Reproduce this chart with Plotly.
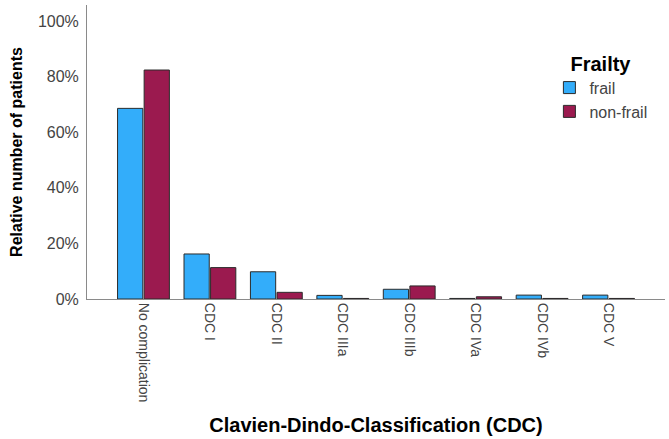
import plotly.graph_objects as go

categories = ["No complication", "CDC I", "CDC II", "CDC IIIa", "CDC IIIb", "CDC IVa", "CDC IVb", "CDC V"]
frail = [0.686, 0.162, 0.098, 0.013, 0.035, 0.002, 0.014, 0.014]
non_frail = [0.824, 0.113, 0.024, 0.002, 0.047, 0.008, 0.002, 0.002]
y_ticks = [0, 0.2, 0.4, 0.6, 0.8, 1.0]
y_tick_labels = ["0%", "20%", "40%", "60%", "80%", "100%"]

FONT = "Arial, Liberation Sans, sans-serif"

fig = go.Figure()
fig.add_trace(go.Bar(x=categories, y=frail, name="frail",
                     marker=dict(color="#33ADFA", line=dict(color="#2b2b2b", width=1))))
fig.add_trace(go.Bar(x=categories, y=non_frail, name="non-frail",
                     marker=dict(color="#9B1A4F", line=dict(color="#2b2b2b", width=1))))

fig.update_layout(
    width=669, height=439,
    margin=dict(l=87, r=4, t=5, b=140),
    paper_bgcolor="white", plot_bgcolor="white",
    barmode="group", bargap=0.2, bargroupgap=0.05,
    font=dict(family=FONT, color="#444444"),
    showlegend=True,
    legend=dict(
        x=0.80, y=0.865, xanchor="left", yanchor="top",
        title=dict(text="<b>Frailty</b>", side="top center",
                   font=dict(family=FONT, size=20, color="black")),
        font=dict(family=FONT, size=16, color="#444444"),
        bgcolor="rgba(0,0,0,0)", tracegroupgap=0, itemwidth=30,
    ),
    xaxis=dict(
        type="category", range=[-0.85, 7.85],
        showline=True, linecolor="#8a8a8a", linewidth=1,
        showgrid=False, ticks="", tickangle=90,
        tickfont=dict(family=FONT, size=14, color="#444444"),
        title=dict(text="<b>Clavien-Dindo-Classification (CDC)</b>",
                   font=dict(family=FONT, size=20, color="black"), standoff=16),
    ),
    yaxis=dict(
        range=[0, 1.058],
        tickvals=y_ticks, ticktext=y_tick_labels,
        showline=True, linecolor="#8a8a8a", linewidth=1,
        showgrid=False, zeroline=False, ticks="",
        tickfont=dict(family=FONT, size=16, color="#444444"),
        ticklabelstandoff=4,
        title=dict(text="<b>Relative number of patients</b>",
                   font=dict(family=FONT, size=16, color="black"), standoff=11),
    ),
)

fig.write_html("out.html")
